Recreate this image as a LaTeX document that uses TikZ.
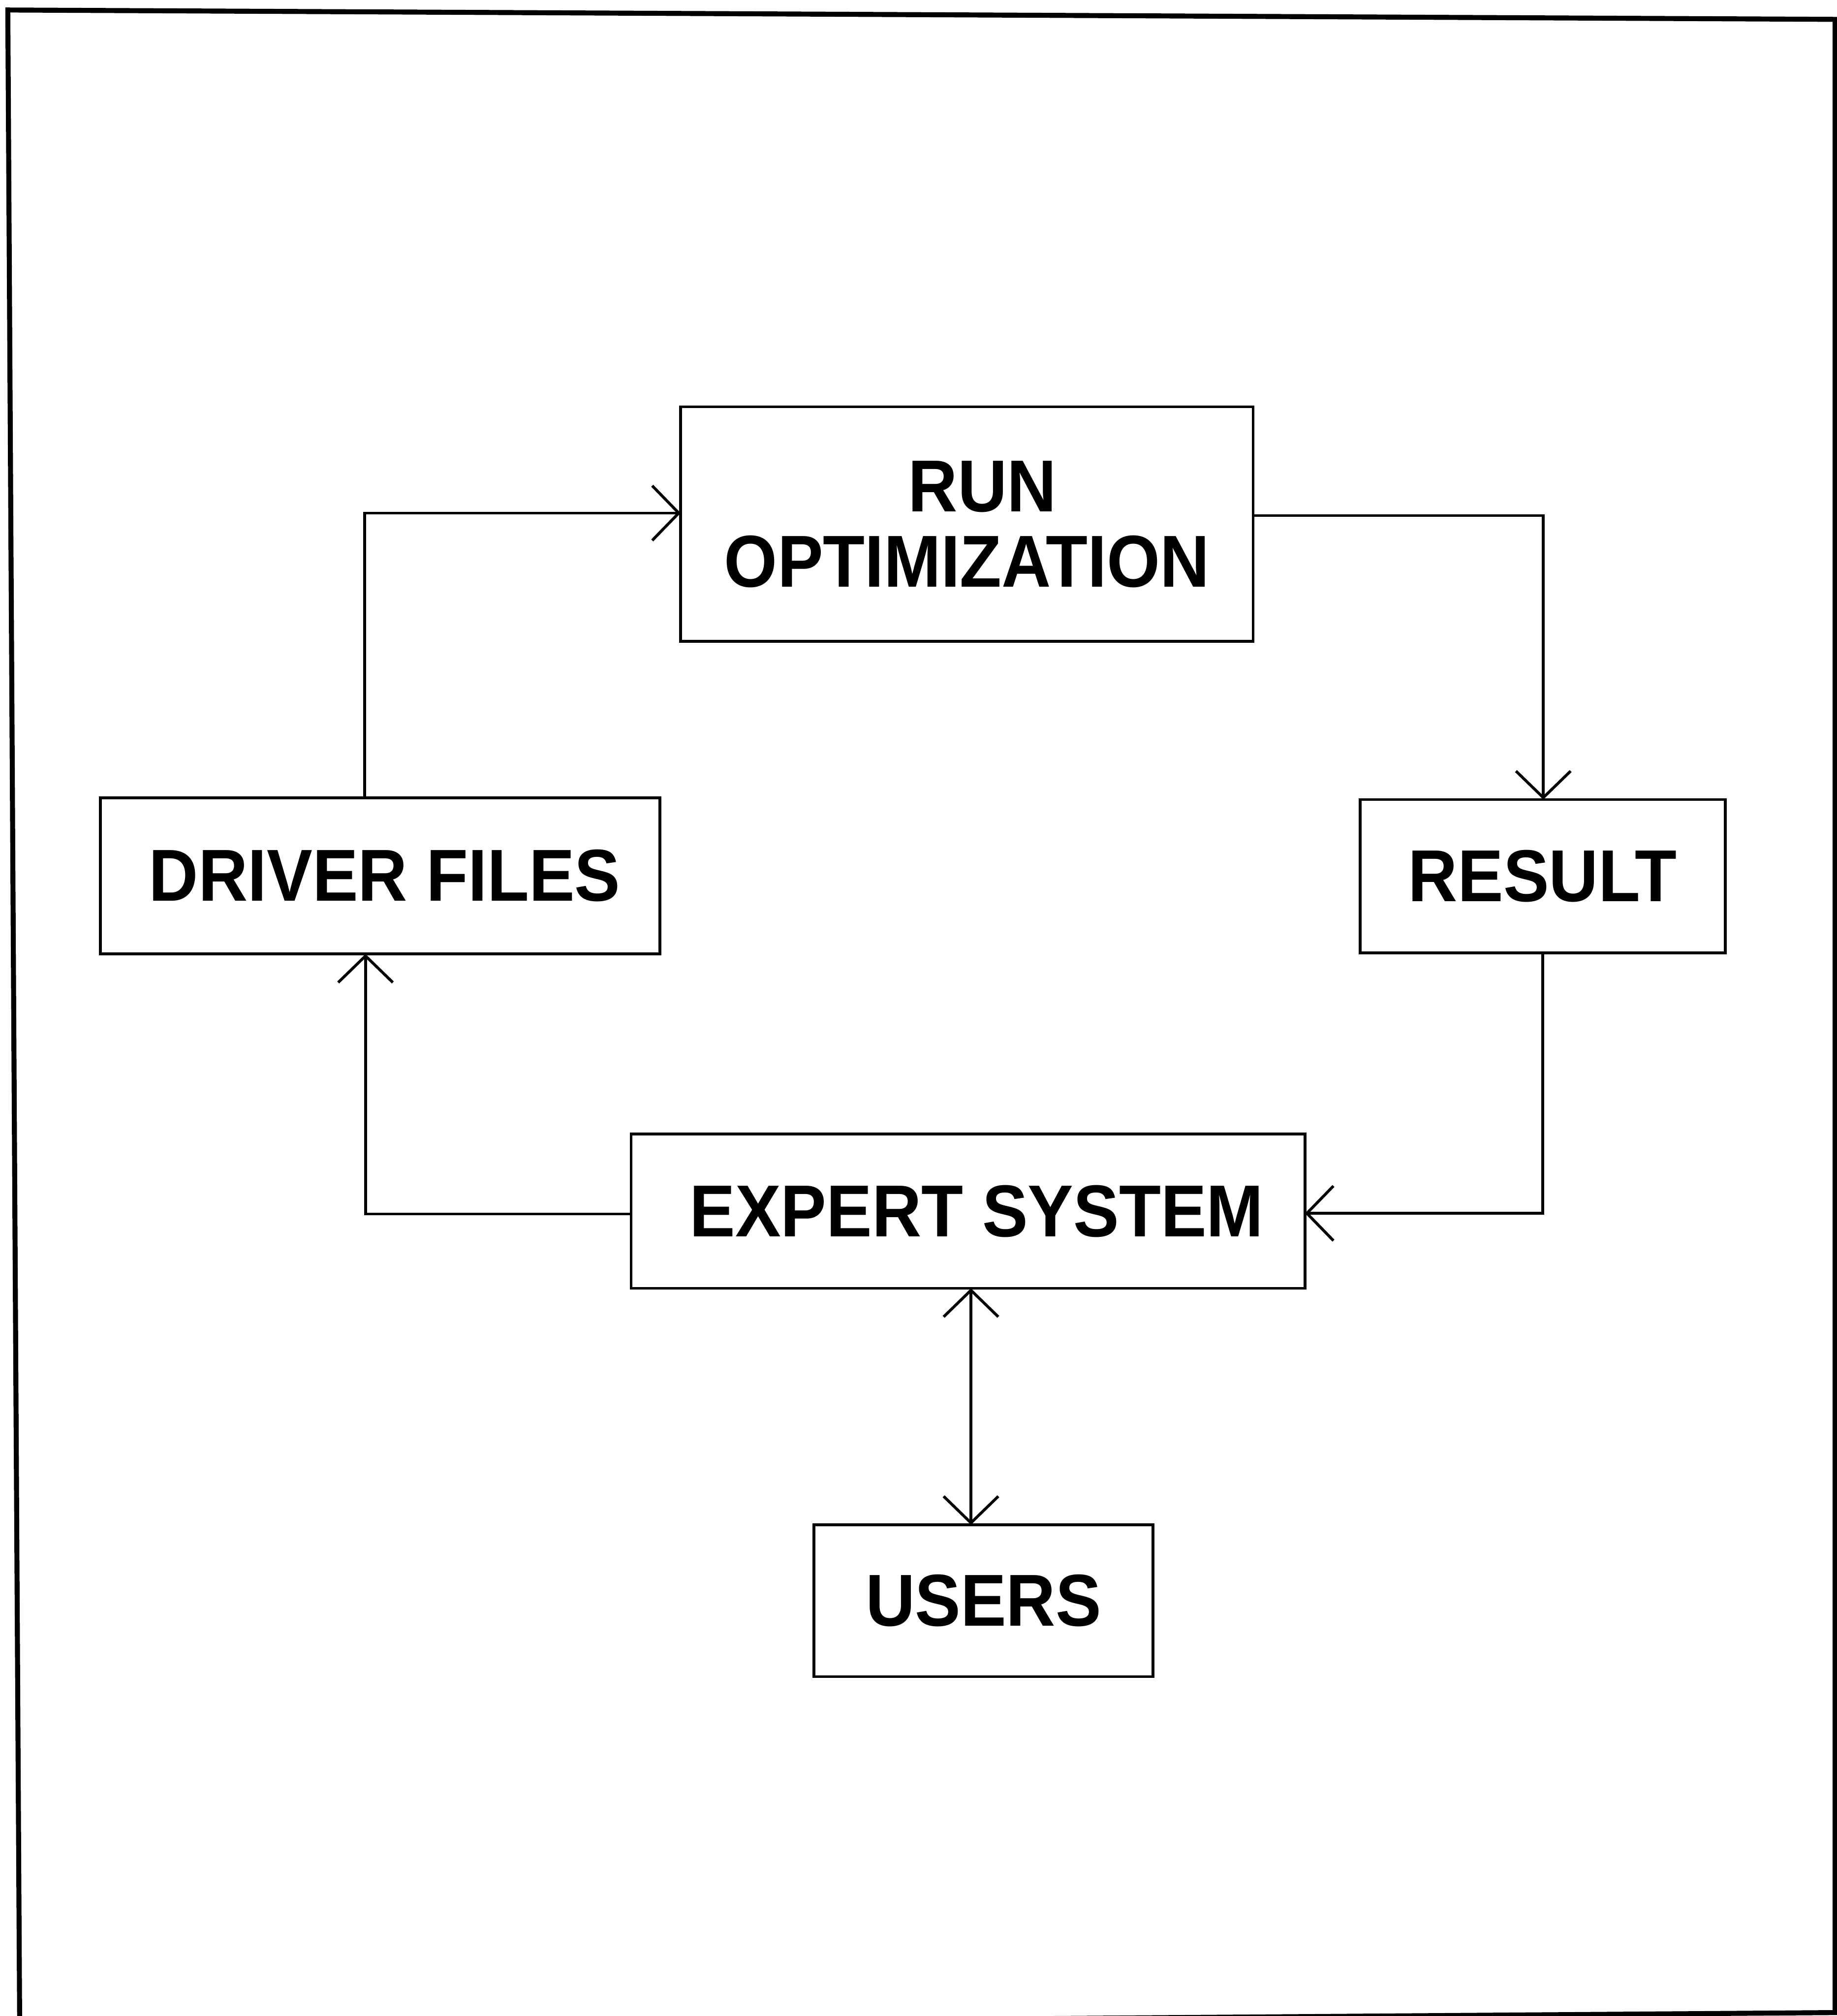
\documentclass[tikz,border=0pt]{standalone}
\usepackage{fontspec}
\newfontfamily\boxfont{Liberation Sans Bold}[FakeStretch=0.93]
\usetikzlibrary{arrows.meta}

\begin{document}
\begin{tikzpicture}[
  every node/.style={inner sep=0pt, outer sep=0pt},
  stage/.style={draw, line width=0.09cm, rectangle, align=center,
    font=\boxfont\fontsize{67pt}{68.5pt}\selectfont},
  flow/.style={line width=0.09cm, line join=miter,
    -{Straight Barb[length=0.85cm, width=1.75cm, line width=0.09cm]}},
  twoway/.style={line width=0.09cm,
    {Straight Barb[length=0.85cm, width=1.75cm, line width=0.09cm]}-{Straight Barb[length=0.85cm, width=1.75cm, line width=0.09cm]}}
]
\useasboundingbox (0,0) rectangle (58.8,-64.52);
\fill[white] (0,0) rectangle (58.8,-64.52);

% outer frame
\draw[line width=0.16cm, line join=miter]
  (0.25,-0.32) -- (58.74,-0.62) -- (58.74,-64.41) -- (0.63,-64.85) -- cycle;

% stages
\node[stage, minimum width=18.32cm, minimum height=7.51cm] (run) at (30.95,-16.775) {\hspace*{1cm}RUN\\OPTIMIZATION};
\node[stage, minimum width=17.91cm, minimum height=5.00cm] (drv) at (12.165,-28.03) {\hspace*{0.3cm}DRIVER FILES};
\node[stage, minimum width=11.68cm, minimum height=4.90cm] (res) at (49.38,-28.04) {RESULT};
\node[stage, minimum width=21.57cm, minimum height=4.94cm] (exp) at (30.985,-38.76) {\hspace*{0.55cm}EXPERT SYSTEM};
\node[stage, minimum width=10.86cm, minimum height=4.86cm] (usr) at (31.48,-51.23) {USERS};

% bends of the loop
\coordinate (b1) at (11.67,-16.42);
\coordinate (b2) at (49.40,-16.50);
\coordinate (b3) at (49.38,-38.83);
\coordinate (b4) at (11.70,-38.85);
\coordinate (b5) at (31.08,0);

% loop connectors
\draw[flow] (b1 |- drv.north) -- (b1) -- (b1 -| run.west);
\draw[flow] (b2 -| run.east) -- (b2) -- (b2 |- res.north);
\draw[flow] (b3 |- res.south) -- (b3) -- (b3 -| exp.east);
\draw[flow] (b4 -| exp.west) -- (b4) -- (b4 |- drv.south);

% users link
\draw[twoway] (b5 |- exp.south) -- (b5 |- usr.north);
\end{tikzpicture}
\end{document}
